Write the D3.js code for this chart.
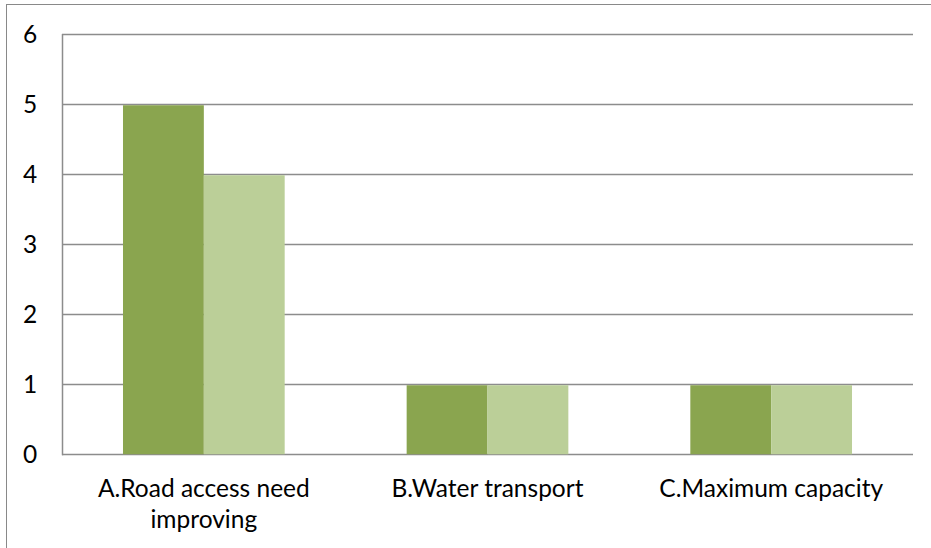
<!DOCTYPE html>
<html><head><meta charset="utf-8">
<script src="https://cdn.jsdelivr.net/npm/d3@7"></script>
<style>body{margin:0;background:#fff;} svg{display:block;}</style>
</head><body>
<svg id="c" width="931" height="548"></svg>
<script>
const categories = [["A.Road access need", "improving"], ["B.Water transport"], ["C.Maximum capacity"]];
const categoryKeys = ["A", "B", "C"];
const series1 = [5, 1, 1];
const series2 = [4, 1, 1];
const yTicks = [0, 1, 2, 3, 4, 5, 6];
const colors = ["#8aa54f", "#bbcf98"];

(function(){
const svg = d3.select("#c");
const font = "Lato, 'Open Sans', sans-serif";
// frame
svg.append("rect").attr("x", 6.5).attr("y", 4.5).attr("width", 930).attr("height", 560)
  .attr("fill", "none").attr("stroke", "#898989").attr("stroke-width", 1);

const pL = 62, pR = 913, pT = 34, pB = 454;
const y = d3.scaleLinear().domain([0, 6]).range([pB, pT]);
const x = d3.scaleBand().domain(categoryKeys).range([pL, pR]).paddingInner(0.43).paddingOuter(0.215);
const xs = d3.scaleBand().domain([0, 1]).range([0, x.bandwidth()]);

// gridlines
svg.append("g").selectAll("line").data(yTicks).join("line")
  .attr("x1", pL).attr("x2", pR).attr("y1", d => y(d) + 0.5).attr("y2", d => y(d) + 0.5)
  .attr("stroke", "#8c8c8c").attr("stroke-width", 1.5);

// bars
const data = categoryKeys.map((k, i) => ({k, vals: [series1[i], series2[i]]}));
const g = svg.append("g").selectAll("g").data(data).join("g").attr("transform", d => `translate(${x(d.k)},0)`);
g.selectAll("rect").data(d => d.vals.map((v, j) => ({v, j}))).join("rect")
  .attr("x", d => xs(d.j)).attr("width", xs.bandwidth())
  .attr("y", d => y(d.v) + 1.25).attr("height", d => y(0) - y(d.v) - 1)
  .attr("fill", d => colors[d.j]);

// y axis line
svg.append("line").attr("x1", pL + 0.5).attr("x2", pL + 0.5).attr("y1", pT).attr("y2", pB + 1.2)
  .attr("stroke", "#8c8c8c").attr("stroke-width", 1.5);

// y tick labels
svg.append("g").selectAll("text").data(yTicks).join("text")
  .attr("x", 30).attr("y", d => y(d)).attr("dy", "0.36em").attr("text-anchor", "middle")
  .attr("font-family", font).attr("font-size", 24.5).attr("fill", "#000").text(d => d);

// category labels
const cl = svg.append("g").selectAll("text").data(categoryKeys).join("text")
  .attr("x", d => x(d) + x.bandwidth() / 2).attr("y", 497).attr("text-anchor", "middle")
  .attr("font-family", font).attr("font-size", 24.5).attr("fill", "#000");
cl.selectAll("tspan").data((d, i) => categories[i]).join("tspan")
  .attr("x", function() { return d3.select(this.parentNode).attr("x"); })
  .attr("dy", (d, i) => i === 0 ? 0 : 31).text(d => d);
})();
</script>
</body></html>
